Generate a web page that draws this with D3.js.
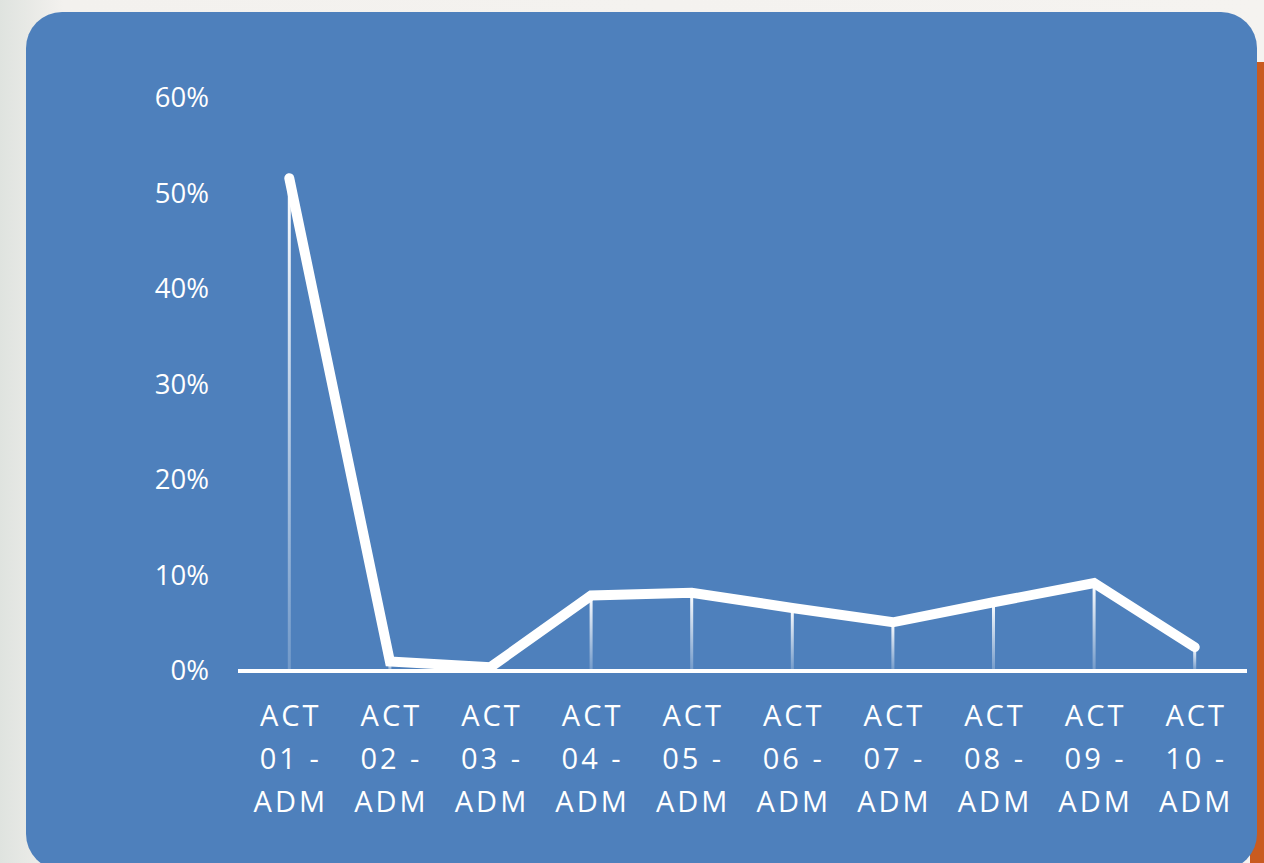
<!DOCTYPE html>
<html>
<head>
<meta charset="utf-8">
<script src="https://cdnjs.cloudflare.com/ajax/libs/d3/7.8.5/d3.min.js"></script>
<style>
  html, body { margin: 0; padding: 0; background: #f4f2ef; overflow: hidden; }
  text { font-family: "Open Sans", "Noto Sans", sans-serif; fill: #ffffff; }
</style>
</head>
<body>
<svg id="chart" width="1264" height="863"></svg>
<script>
// data
var categories = ["ACT 01 - ADM", "ACT 02 - ADM", "ACT 03 - ADM", "ACT 04 - ADM", "ACT 05 - ADM",
                  "ACT 06 - ADM", "ACT 07 - ADM", "ACT 08 - ADM", "ACT 09 - ADM", "ACT 10 - ADM"];
var values = [0.516, 0.010, 0.004, 0.079, 0.082, 0.066, 0.051, 0.072, 0.092, 0.025];
var yTicks = [0, 0.1, 0.2, 0.3, 0.4, 0.5, 0.6];

var svg = d3.select("#chart");
var defs = svg.append("defs");

// soft background behind the card
var bg = defs.append("linearGradient").attr("id", "bg")
    .attr("x1", 0).attr("y1", 0).attr("x2", 1).attr("y2", 0);
bg.append("stop").attr("offset", "0%").attr("stop-color", "#dfe3df");
bg.append("stop").attr("offset", "5%").attr("stop-color", "#f3f1ee");
bg.append("stop").attr("offset", "100%").attr("stop-color", "#f5f3f0");

svg.append("rect")
    .attr("width", 1264).attr("height", 863)
    .attr("fill", "url(#bg)");

// orange strip on the right edge
svg.append("rect")
    .attr("x", 1250).attr("y", 62)
    .attr("width", 20).attr("height", 820)
    .attr("fill", "#c95b20");

// blue card
svg.append("rect")
    .attr("x", 26).attr("y", 12)
    .attr("width", 1231).attr("height", 858)
    .attr("rx", 36).attr("ry", 36)
    .attr("fill", "#4e80bc");

var drop = defs.append("linearGradient").attr("id", "drop")
    .attr("x1", 0).attr("y1", 0).attr("x2", 0).attr("y2", 1);
drop.append("stop").attr("offset", "0%").attr("stop-color", "#ffffff").attr("stop-opacity", 1);
drop.append("stop").attr("offset", "100%").attr("stop-color", "#ffffff").attr("stop-opacity", 0.2);

var xScale = d3.scaleBand()
    .domain(categories)
    .range([239, 1245]);

var yScale = d3.scaleLinear()
    .domain([0, 0.6])
    .range([671, 98]);

var cx = function(d) { return xScale(d) + xScale.bandwidth() / 2; };

// y axis labels
var yAxis = svg.append("g")
    .attr("transform", "translate(209,0)")
    .call(d3.axisLeft(yScale)
        .tickValues(yTicks)
        .tickFormat(d3.format(".0%"))
        .tickSize(0)
        .tickPadding(0));
yAxis.select(".domain").remove();
yAxis.selectAll("text")
    .attr("fill", "#ffffff")
    .style("font-size", "27.5px")
    .style("font-family", "'Open Sans', sans-serif");

// drop lines
svg.append("g")
    .selectAll("rect")
    .data(categories)
    .enter()
    .append("rect")
        .attr("x", function(d) { return cx(d) - 1.5; })
        .attr("y", function(d, i) { return yScale(values[i]); })
        .attr("width", 3)
        .attr("height", function(d, i) { return Math.max(0, yScale(0) - yScale(values[i])); })
        .attr("fill", "url(#drop)");

// baseline
svg.append("line")
    .attr("x1", 238).attr("x2", 1247)
    .attr("y1", yScale(0)).attr("y2", yScale(0))
    .attr("stroke", "#ffffff")
    .attr("stroke-width", 4);

// the series line
var line = d3.line()
    .x(function(d, i) { return cx(categories[i]); })
    .y(function(d) { return yScale(d); });

svg.append("path")
    .datum(values)
    .attr("d", line)
    .attr("fill", "none")
    .attr("stroke", "#ffffff")
    .attr("stroke-width", 10)
    .attr("stroke-linecap", "round")
    .attr("stroke-linejoin", "miter");

// category labels, three lines each
var labels = svg.append("g")
    .selectAll("text")
    .data(categories)
    .enter()
    .append("text")
        .attr("text-anchor", "middle")
        .style("font-size", "29px")
        .style("letter-spacing", "3px");

labels.each(function(d) {
    var parts = [d.slice(0, 3), d.slice(4, 8), d.slice(9)];
    var t = d3.select(this);
    parts.forEach(function(p, j) {
        t.append("tspan")
            .attr("x", cx(d) + 1.5)
            .attr("y", 726 + j * 43)
            .text(p);
    });
});
</script>
</body>
</html>
